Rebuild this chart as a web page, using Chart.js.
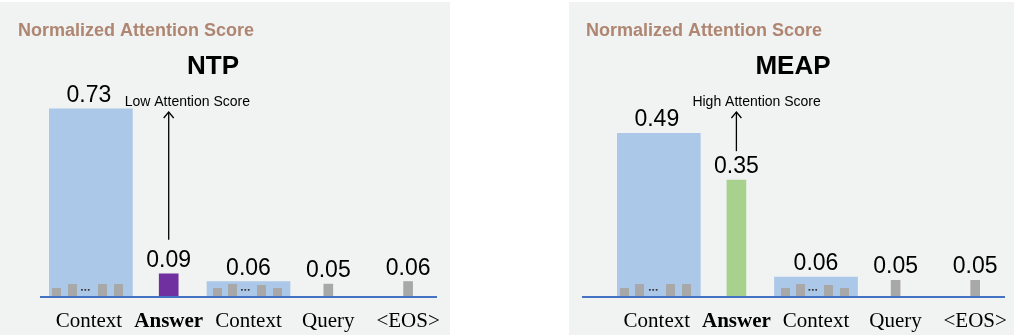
<!DOCTYPE html>
<html><head><meta charset="utf-8">
<script src="https://cdn.jsdelivr.net/npm/chart.js@4.4.0/dist/chart.umd.min.js"></script>
<style>
html,body{margin:0;padding:0;background:#fff;width:1014px;height:335px;overflow:hidden;position:relative;}
.panel{position:absolute;background:#f1f2f2;overflow:hidden;}
#p1{left:0;top:2px;width:450px;height:333px;}
#p2{left:569px;top:2px;width:445px;height:333px;}
canvas{display:block;}
</style></head><body>
<div class="panel" id="p1"><canvas id="c1" width="450" height="333"></canvas></div>
<div class="panel" id="p2"><canvas id="c2" width="450" height="333"></canvas></div>
<script>
// ---- data ----
const categories = ['Context', 'Answer', 'Context', 'Query', '<EOS>'];
const ntpScores  = [0.73, 0.09, 0.06, 0.05, 0.06];
const meapScores = [0.49, 0.35, 0.06, 0.05, 0.05];
const chartTitle = 'Normalized Attention Score';
const ntpName = 'NTP';
const meapName = 'MEAP';
const ntpNote = 'Low Attention Score';
const meapNote = 'High Attention Score';

// ---- styles ----
const CTX_BLUE = '#abc8e9';
const TOKEN_GRAY = '#a8a8a8';
const PURPLE = '#7030a0';
const GREEN = '#a9d18e';
const AXIS_BLUE = '#4472c4';
const TITLE_BROWN = '#ae8672';

function buildDatasets(scores, answerColor) {
  const colors = [CTX_BLUE, answerColor, CTX_BLUE, TOKEN_GRAY, TOKEN_GRAY];
  const widths = [87, 19, 83, 9, 9];
  return scores.map((v, k) => ({
    data: scores.map((s, i) => (i === k ? s : null)),
    backgroundColor: colors[k],
    borderWidth: 0,
    barThickness: widths[k],
    grouped: false
  }));
}

const decor = {
  id: 'decor',
  afterDatasetsDraw(chart, args, o) {
    const ctx = chart.ctx;
    const ca = chart.chartArea;
    const y0 = chart.scales.y.getPixelForValue(0);
    const scores = chart.data.datasets.map((d, k) => d.data[k]);
    ctx.save();

    // token glyphs inside context bars
    const fracs = [0.075, 0.255, 0.6, 0.79];
    [[0, [9, 13, 13, 13]], [2, [9, 13, 12, 9]]].forEach(([k, hs]) => {
      const el = chart.getDatasetMeta(k).data[k];
      const left = el.x - el.width / 2;
      ctx.fillStyle = TOKEN_GRAY;
      fracs.forEach((f, j) => ctx.fillRect(Math.round(left + f * el.width), y0 - hs[j], 9, hs[j]));
      ctx.fillStyle = '#333';
      for (let d = 0; d < 3; d++) ctx.fillRect(left + 0.41 * el.width + d * 3.4, y0 - 8, 1.7, 1.7);
    });

    // baseline
    ctx.strokeStyle = AXIS_BLUE; ctx.lineWidth = 2;
    ctx.beginPath(); ctx.moveTo(ca.left - o.extL, y0); ctx.lineTo(ca.right - o.inR, y0); ctx.stroke();

    // value labels
    ctx.fillStyle = '#000';
    ctx.font = '23px "Liberation Sans", Arial, sans-serif';
    ctx.textAlign = 'center'; ctx.textBaseline = 'alphabetic';
    scores.forEach((v, k) => {
      const el = chart.getDatasetMeta(k).data[k];
      ctx.fillText(v.toFixed(2), el.x, el.y - 7);
    });

    // arrow annotation on Answer
    const a = chart.getDatasetMeta(1).data[1];
    const bottom = a.y - 7 - 17 - o.arrowGap;
    ctx.strokeStyle = '#000'; ctx.lineWidth = 1.3;
    ctx.beginPath(); ctx.moveTo(a.x, bottom); ctx.lineTo(a.x, o.tipY); ctx.stroke();
    ctx.beginPath(); ctx.moveTo(a.x - 5, o.tipY + 6); ctx.lineTo(a.x, o.tipY); ctx.lineTo(a.x + 5, o.tipY + 6); ctx.stroke();
    ctx.font = '14px "Liberation Sans", Arial, sans-serif';
    ctx.textAlign = 'left';
    ctx.fillText(o.note, a.x - 44, o.tipY - 6);

    // titles
    ctx.fillStyle = TITLE_BROWN;
    ctx.font = 'bold 18px "Liberation Sans", Arial, sans-serif';
    ctx.textAlign = 'left';
    ctx.fillText(chartTitle, o.titleX, 34);
    ctx.fillStyle = '#000';
    ctx.font = 'bold 26px "Liberation Sans", Arial, sans-serif';
    ctx.textAlign = 'center';
    ctx.fillText(o.name, o.nameX, 72);
    ctx.restore();
  }
};

function makeChart(id, scores, answerColor, yMax, pad, decorOpts) {
  return new Chart(document.getElementById(id), {
    type: 'bar',
    data: { labels: categories, datasets: buildDatasets(scores, answerColor) },
    plugins: [decor],
    options: {
      responsive: false,
      animation: false,
      layout: { padding: pad },
      plugins: { legend: { display: false }, tooltip: { enabled: false }, decor: decorOpts },
      scales: {
        x: {
          grid: { display: false },
          border: { display: false },
          afterFit: (s) => { s.height = 38; },
          ticks: {
            padding: 3.5,
            minRotation: 0,
            maxRotation: 0,
            autoSkip: false,
            color: '#000',
            font: (c) => ({ family: '"Liberation Serif", "Times New Roman", serif', size: 21, weight: c.index === 1 ? 'bold' : 'normal' })
          }
        },
        y: { display: false, min: 0, max: yMax }
      }
    }
  });
}

makeChart('c1', ntpScores, PURPLE, 0.92, { left: 49, right: 2, top: 58, bottom: 0 },
  { extL: 9, inR: 11, arrowGap: 10, tipY: 110, note: ntpNote, titleX: 18, name: ntpName, nameX: 213 });
makeChart('c2', meapScores, GREEN, 0.71, { left: 48, right: 4, top: 58, bottom: 0 },
  { extL: 35, inR: 10, arrowGap: 5, tipY: 110, note: meapNote, titleX: 17, name: meapName, nameX: 224 });
</script>
</body></html>
